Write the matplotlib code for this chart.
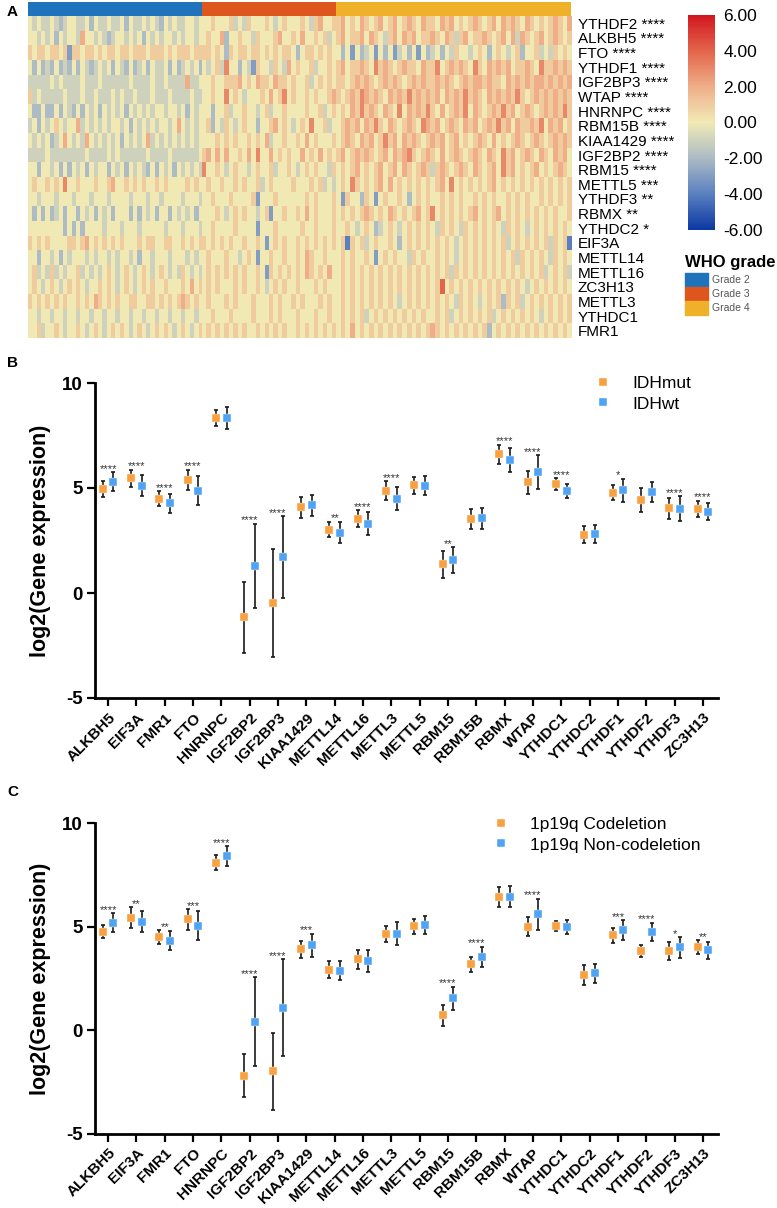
import numpy as np
import matplotlib.pyplot as plt
from matplotlib.colors import LinearSegmentedColormap, Normalize
from matplotlib.cm import ScalarMappable
from matplotlib.patches import Rectangle
from matplotlib.lines import Line2D

plt.rcParams['font.family'] = ['Liberation Sans', 'DejaVu Sans']
plt.rcParams['axes.unicode_minus'] = False

W, H = 777, 1208

# ---------------- panel A: heatmap ----------------
grade_names = ['Grade 2', 'Grade 3', 'Grade 4']
grade_counts = [103, 79, 139]
grade_colors = ['#1f73bd', '#de551d', '#efb12a']

heat_genes = ['YTHDF2', 'ALKBH5', 'FTO', 'YTHDF1', 'IGF2BP3', 'WTAP', 'HNRNPC', 'RBM15B',
              'KIAA1429', 'IGF2BP2', 'RBM15', 'METTL5', 'YTHDF3', 'RBMX', 'YTHDC2', 'EIF3A',
              'METTL14', 'METTL16', 'ZC3H13', 'METTL3', 'YTHDC1', 'FMR1']
heat_stars = ['****', '****', '****', '****', '****', '****', '****', '****', '****', '****',
              '****', '***', '**', '**', '*', '', '', '', '', '', '', '']

# one character per block of samples: '0' = -4, '4' = 0, '8' = +4
heat_g2 = [
    "4343343234 4334243343 3424334343 2434334434",
    "4434342434 4364434323 4434342434 3443434434",
    "5455455451 5545545455 4554555455 5454555455",
    "4242324232 4243234342 4324234243 3424234342",
    "3333343433 3343334333 3334333343 3433336334",
    "5343333343 3343343334 3433433343 3343333433",
    "4224224243 2424342434 3424343434 4344342434",
    "3424345434 4634343434 4342434343 4434643434",
    "4343423464 3436434343 4243434634 3434343434",
    "3333433333 3334333343 4333333433 3343333334",
    "4424434242 4342434424 3424343242 4342434343",
    "4544545474 4544454456 4454545445 4544445454",
    "4434443444 3444344434 4443444344 3444434443",
    "4242423424 4243424342 4442424342 4424343424",
    "4444444424 2424444344 4344434444 4344434443",
    "5454544445 5456454545 4544454554 4554454545",
    "4424434243 4443434434 3443424434 4434443434",
    "4534353434 4534343454 3454345434 5434354343",
    "4543454345 4543445454 3454345454 4544454645",
    "5454545454 4545465454 5445544554 5454565454",
    "4434434434 4344344344 3443443443 4434434434",
    "4453445434 4543454345 4543454345 4543454345",
]
heat_g3 = [
    "4454445343 5444543454 4454356445",
    "4544624454 4354445644 5464454534",
    "5545425455 4554545455 4245545454",
    "4345374424 3154435436 4544534454",
    "4454455564 5465546554 5445345454",
    "4454474543 4445464574 5445454456",
    "4424453445 4434534454 4445445345",
    "4524354345 4424456454 3454744534",
    "4445454544 5454634454 4546454445",
    "5646464454 6474464545 4464546454",
    "7445434544 3454453445 4345454435",
    "4544544545 4453454444 5444545343",
    "4454445444 4514445444 4445454445",
    "4445434545 4434514454 4546454445",
    "4454444544 4414445444 4454454445",
    "5454545445 4454145454 4545454545",
    "4544454434 5414454454 4546544544",
    "4545454545 4454154545 4546545464",
    "4545444545 4454345454 4544454544",
    "4544454544 4544454544 5454445454",
    "4454445444 4544454544 4544454454",
    "4545454545 4454545454 4545454545",
]
heat_g4 = [
    "5645465456 4564565465 5465645456 5456465654 6545456546",
    "5645564654 3564656455 6546535645 5654564636 5456456545",
    "4241423414 2413424142 3424354434 5424543452 4453435454",
    "5645565475 6545655465 5745656547 5465656455 6547556565",
    "5545656545 6565456565 5656545656 6565546565 6566565656",
    "5456576565 4656575656 5646565756 5465656575 4565656565",
    "4546575654 6547465657 5464565746 5456575645 6545656575",
    "4565646575 4654565476 5645654656 4565756465 5657465645",
    "4565465645 7564656545 6564564545 6546454565 4565456565",
    "5645656545 6465675456 5464565456 5465475645 6546546564",
    "4545645456 4564654565 3565456546 5456475645 4564545654",
    "4547545456 4645454545 4564745454 5456454545 4545454545",
    "4154425414 5445424545 4454545445 4545445454 5445454545",
    "4545456545 4654545645 7454545456 4545645454 5454545445",
    "4454345423 4543454545 4354543545 4545435454 3454545454",
    "4505453454 4542454545 4545434545 4545453454 5454535450",
    "4545445414 5454435454 4545434545 4545454535 4545435454",
    "4545454545 4545454545 4545354545 4545454545 4545345453",
    "4545454545 4545454545 4584545454 5454545454 3454545454",
    "4545454545 4543454545 4545435454 3454525453 4545454545",
    "4545453454 5454545454 4545345454 5453454545 4543454545",
    "4546454545 4545454545 6545454545 4524545454 5454545454",
]

# ---------------- panels B / C ----------------
genes = ['ALKBH5', 'EIF3A', 'FMR1', 'FTO', 'HNRNPC', 'IGF2BP2', 'IGF2BP3', 'KIAA1429',
         'METTL14', 'METTL16', 'METTL3', 'METTL5', 'RBM15', 'RBM15B', 'RBMX', 'WTAP',
         'YTHDC1', 'YTHDC2', 'YTHDF1', 'YTHDF2', 'YTHDF3', 'ZC3H13']

idh_mut_mean = [4.94, 5.46, 4.50, 5.38, 8.32, -1.16, -0.46, 4.08, 3.02, 3.54, 4.86,
                5.13, 1.37, 3.51, 6.60, 5.27, 5.18, 2.78, 4.78, 4.44, 4.03, 4.02]
idh_mut_sd = [0.37, 0.40, 0.35, 0.48, 0.38, 1.70, 2.57, 0.50, 0.37, 0.40, 0.45,
              0.40, 0.65, 0.48, 0.45, 0.55, 0.29, 0.41, 0.37, 0.56, 0.50, 0.38]
idh_wt_mean = [5.30, 5.10, 4.27, 4.87, 8.32, 1.30, 1.70, 4.17, 2.87, 3.30, 4.50,
               5.11, 1.57, 3.56, 6.33, 5.76, 4.87, 2.81, 4.90, 4.79, 4.02, 3.87]
idh_wt_sd = [0.45, 0.50, 0.45, 0.68, 0.52, 2.00, 1.96, 0.52, 0.49, 0.54, 0.53,
             0.45, 0.62, 0.51, 0.57, 0.81, 0.34, 0.43, 0.55, 0.48, 0.58, 0.40]
idh_sig = ['****', '****', '****', '****', '', '****', '****', '', '**', '****', '****',
           '', '**', '', '****', '****', '****', '', '*', '', '****', '****']

codel_mean = [4.75, 5.43, 4.51, 5.35, 8.10, -2.20, -2.00, 3.90, 2.93, 3.42, 4.64,
              5.02, 0.72, 3.19, 6.44, 5.00, 5.03, 2.66, 4.59, 3.83, 3.83, 4.02]
codel_sd = [0.32, 0.50, 0.33, 0.50, 0.36, 1.05, 1.85, 0.40, 0.40, 0.47, 0.40,
            0.35, 0.50, 0.36, 0.50, 0.45, 0.26, 0.50, 0.37, 0.28, 0.45, 0.33]
noncodel_mean = [5.20, 5.24, 4.32, 5.04, 8.40, 0.40, 1.08, 4.10, 2.87, 3.35, 4.67,
                 5.10, 1.53, 3.54, 6.45, 5.60, 4.98, 2.74, 4.83, 4.75, 4.00, 3.86]
noncodel_sd = [0.45, 0.50, 0.45, 0.70, 0.48, 2.15, 2.35, 0.55, 0.45, 0.53, 0.55,
               0.43, 0.57, 0.50, 0.50, 0.75, 0.35, 0.44, 0.47, 0.45, 0.50, 0.41]
codel_sig = ['****', '**', '**', '***', '****', '****', '****', '***', '', '', '',
             '', '****', '****', '', '****', '', '', '***', '****', '*', '**']

c_orange = '#f9a03f'
c_blue = '#4fa3f5'

fig = plt.figure(figsize=(W / 100, H / 100), dpi=100)

# heatmap
cmap = LinearSegmentedColormap.from_list(
    'heat', [(0.0, '#0b38a3'), (1 / 6, '#5a80c0'), (2 / 6, '#acbbc4'), (0.5, '#f1eab5'),
             (4 / 6, '#efae88'), (5 / 6, '#e3654b'), (1.0, '#d2161f')])
edges = np.concatenate([[0], np.cumsum(grade_counts)])

ax_h = fig.add_axes([28 / W, 1 - 338 / H, 543 / W, 322 / H])
for k, block in enumerate([heat_g2, heat_g3, heat_g4]):
    mat = np.array([[int(c) - 4 for c in s.replace(' ', '')] for s in block], float)
    ax_h.imshow(mat, cmap=cmap, vmin=-6, vmax=6, aspect='auto', interpolation='nearest',
                extent=(edges[k], edges[k + 1], len(heat_genes), 0))
ax_h.set_xlim(0, edges[-1])
ax_h.set_ylim(len(heat_genes), 0)
ax_h.set_xticks([])
ax_h.yaxis.tick_right()
ax_h.set_yticks(np.arange(len(heat_genes)) + 0.5)
ax_h.set_yticklabels([(g + ' ' + s).strip() for g, s in zip(heat_genes, heat_stars)], fontsize=11)
ax_h.tick_params(axis='y', length=0, pad=5)
for sp in ax_h.spines.values():
    sp.set_visible(False)

ax_a = fig.add_axes([28 / W, 1 - 16 / H, 543 / W, 14 / H])
ax_a.barh(0, grade_counts, left=edges[:-1], height=1, color=grade_colors)
ax_a.set_xlim(0, edges[-1])
ax_a.set_ylim(-0.5, 0.5)
ax_a.axis('off')

cax = fig.add_axes([688 / W, 1 - 230 / H, 27 / W, 215 / H])
cb = fig.colorbar(ScalarMappable(norm=Normalize(-6, 6), cmap=cmap), cax=cax,
                  ticks=[6, 4, 2, 0, -2, -4, -6], format='%.2f')
cb.outline.set_visible(False)
cax.tick_params(length=0, labelsize=12.5, pad=6)

fig.text(685 / W, 1 - 262 / H, 'WHO grade', fontsize=12, fontweight='bold', va='center')
for k, name in enumerate(grade_names):
    y0 = 273 + 14 * k
    fig.patches.append(Rectangle((685 / W, 1 - (y0 + 14) / H), 23 / W, 14 / H,
                                 transform=fig.transFigure, color=grade_colors[k]))
    fig.text(712 / W, 1 - (y0 + 7) / H, name, fontsize=7.5, color='#555555', va='center')


def dot_panel(rect, m1, s1, m2, s2, stars, names, leg_xy):
    ax = fig.add_axes(rect)
    x = np.arange(len(genes))
    for xs, m, s, col in ((x - 0.19, m1, s1, c_orange), (x + 0.19, m2, s2, c_blue)):
        ax.errorbar(xs, m, yerr=s, fmt='none', ecolor='#1a1a1a', elinewidth=1.2,
                    capsize=1.6, capthick=1.2, zorder=2)
        ax.plot(xs, m, 's', color=col, ms=6.4, mec='white', mew=0.3, zorder=3)
    tops = np.maximum(np.add(m1, s1), np.add(m2, s2))
    for xi, t, st in zip(x, tops, stars):
        if st:
            ax.text(xi, t + 0.02, st, ha='center', va='baseline', fontsize=8, color='#333333')
    ax.set_xlim(-0.46, 21.53)
    ax.set_ylim(-5, 10)
    ax.set_yticks([-5, 0, 5, 10])
    ax.set_xticks(x)
    ax.set_xticklabels(genes, rotation=45, ha='right', va='top', rotation_mode='anchor',
                       fontsize=11, fontweight='bold')
    for lab in ax.get_yticklabels():
        lab.set_fontweight('bold')
        lab.set_fontsize(13.5)
    ax.tick_params(direction='out', length=6, width=1.6, pad=3)
    ax.spines['top'].set_visible(False)
    ax.spines['right'].set_visible(False)
    ax.spines['left'].set_linewidth(2)
    ax.spines['bottom'].set_linewidth(2)
    ax.set_ylabel('log2(Gene expression)', fontsize=15.5, fontweight='bold', labelpad=8)
    handles = [Line2D([], [], ls='none', marker='s', ms=6.4, color=c, mec='white', mew=0.3)
               for c in (c_orange, c_blue)]
    fig.legend(handles, names, loc='upper left', bbox_to_anchor=leg_xy,
               bbox_transform=fig.transFigure, frameon=False, fontsize=12.5,
               handlelength=1.0, handletextpad=1.2, labelspacing=0.3,
               borderpad=0, borderaxespad=0)
    return ax


dot_panel([95 / W, 1 - 698 / H, 623 / W, 315 / H], idh_mut_mean, idh_mut_sd,
          idh_wt_mean, idh_wt_sd, idh_sig, ['IDHmut', 'IDHwt'],
          (594 / W, 1 - 376 / H))
dot_panel([95 / W, 1 - 1133.5 / H, 623 / W, 310.2 / H], codel_mean, codel_sd,
          noncodel_mean, noncodel_sd, codel_sig,
          ['1p19q Codeletion', '1p19q Non-codeletion'], (492 / W, 1 - 817 / H))

for letter, y in (('A', 12), ('B', 363), ('C', 792)):
    fig.text(7 / W, 1 - y / H, letter, fontsize=11, fontweight='bold', va='center')

fig.savefig('out.png', dpi=100)
